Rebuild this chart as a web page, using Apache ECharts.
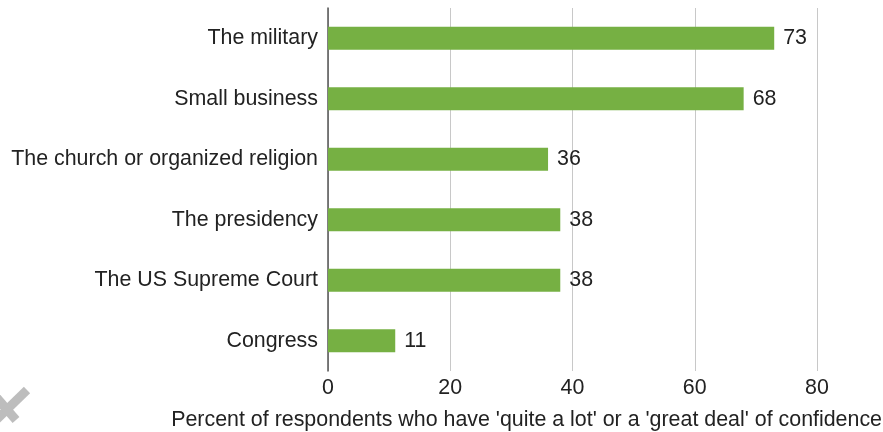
<!DOCTYPE html>
<html><head><meta charset="utf-8">
<script src="https://cdn.jsdelivr.net/npm/echarts@6/dist/echarts.min.js"></script>
<style>html,body{margin:0;padding:0;background:#fff}#c{width:883px;height:432px}</style>
</head><body><div id="c"></div>
<script>
const categories = ['The military','Small business','The church or organized religion','The presidency','The US Supreme Court','Congress'];
const values = [73, 68, 36, 38, 38, 11];
const axisTitle = "Percent of respondents who have 'quite a lot' or a 'great deal' of confidence";
const font = 'Liberation Sans, Arial, sans-serif';
const chart = echarts.init(document.getElementById('c'));
chart.setOption({
  animation: false,
  grid: {left: 328, right: 66, top: 8, bottom: 61, containLabel: false},
  xAxis: {
    type: 'value', min: 0, max: 80, interval: 20,
    axisLine: {show: false}, axisTick: {show: false},
    splitLine: {lineStyle: {color: '#c8c8c8', width: 1}},
    axisLabel: {color: '#222', fontSize: 21.4, fontFamily: font, margin: 7}
  },
  yAxis: {
    type: 'category', data: categories, inverse: true,
    axisLine: {show: true, lineStyle: {color: '#555', width: 1.5}},
    axisTick: {show: false},
    axisLabel: {color: '#222', fontSize: 21.4, fontFamily: font, margin: 10}
  },
  series: [{
    type: 'bar', data: values, barWidth: 23,
    itemStyle: {color: '#76b043'},
    label: {show: true, position: 'right', distance: 9, color: '#222', fontSize: 21.4, fontFamily: font}
  }],
  graphic: [
    {type: 'text', x: 882, y: 420, style: {text: axisTitle, fill: '#222', fontSize: 21.4, fontFamily: font, align: 'right', verticalAlign: 'middle'}},
    {type: 'line', shape: {x1: 27, y1: 390, x2: -8, y2: 424}, style: {stroke: '#bdbdbd', lineWidth: 9}},
    {type: 'line', shape: {x1: -8, y1: 392, x2: 16, y2: 420}, style: {stroke: '#bdbdbd', lineWidth: 9}}
  ]
});
</script></body></html>
